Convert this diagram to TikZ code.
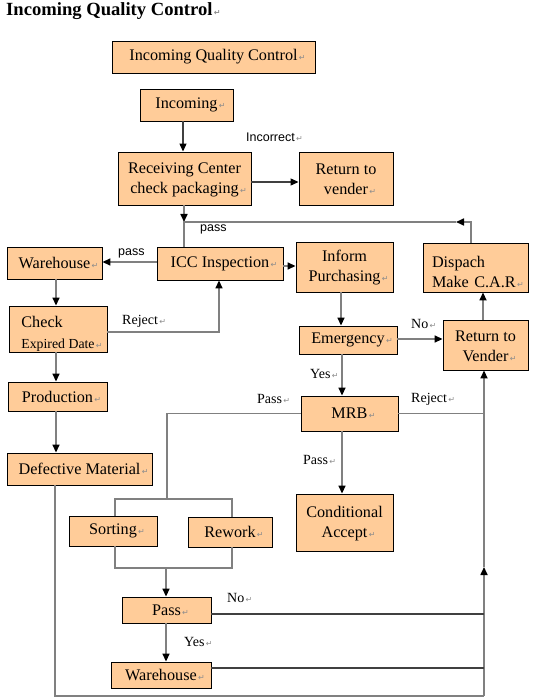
\documentclass[tikz,border=0pt]{standalone}
\usepackage{fontspec}
\setmainfont{Liberation Serif}
\newfontfamily\sansf{Liberation Sans}
\newfontfamily\dvs{DejaVu Sans}
\usetikzlibrary{arrows.meta,calc}
\definecolor{boxfill}{HTML}{FFCC99}
\definecolor{lnc}{HTML}{808080}
\newcommand\pmk{\rlap{\dvs\fontsize{8}{8}\selectfont\color{black!45}\,↵}}
\begin{document}
\begin{tikzpicture}[x=1pt,y=-1pt,
 >={Triangle[length=8pt,width=7pt,color=black,fill=black]},
 box/.style={draw=black,line width=0.9pt,fill=boxfill,inner sep=0pt,align=center,font=\fontsize{16.2}{20}\selectfont},
 conn/.style={draw=lnc,line width=1.6pt},
 dconn/.style={draw=black!75,line width=1.1pt},
 lab/.style={inner sep=0pt,anchor=west,font=\fontsize{14}{16}\selectfont},
 slab/.style={inner sep=0pt,anchor=west,font=\sansf\fontsize{12.5}{14}\selectfont}]
\useasboundingbox (0,0) rectangle (537,700);

\node[anchor=base west,inner sep=0pt,font=\bfseries\fontsize{18.6}{20}\selectfont] (title) at (6,16) {Incoming Quality Control\pmk};

\node[box,minimum width=203pt,minimum height=32pt] (iqc) at (213.5,57) {Incoming Quality Control\pmk};
\node[box,minimum width=93pt,minimum height=32pt] (inc) at (186.5,105) {Incoming\pmk};
\node[box,minimum width=133pt,minimum height=53pt] (recv) at (184.5,178.5) {\rule{0pt}{13pt}Receiving Center\\check packaging\pmk};
\node[box,minimum width=94pt,minimum height=53pt] (ret1) at (346,178.5) {\rule{0pt}{13pt}Return to\\vender\pmk};
\node[box,minimum width=126pt,minimum height=33pt] (icc) at (220,263.5) {ICC Inspection\pmk};
\node[box,minimum width=95pt,minimum height=32pt] (wh1) at (54.5,263) {Warehouse\pmk};
\node[box,minimum width=98pt,minimum height=46pt,align=left,font=\fontsize{16.2}{21}\selectfont] (chk) at (58,329) {\rule{0pt}{21pt}Check\\{\fontsize{13.8}{21}\selectfont Expired Date\pmk}};
\node[box,minimum width=99pt,minimum height=29pt] (prod) at (57.5,396.5) {Production\pmk};
\node[box,minimum width=145pt,minimum height=32pt] (def) at (79.5,469) {Defective Material\pmk};
\node[box,minimum width=97pt,minimum height=50pt] (inf) at (344.5,267) {\rule{0pt}{13pt}Inform\\Purchasing\pmk};
\node[box,minimum width=105pt,minimum height=49pt,align=left,text width=87pt] (dis) at (475.5,267.5) {\rule{0pt}{20pt}Dispach\\Make C.A.R\pmk};
\node[box,minimum width=98pt,minimum height=28pt] (emg) at (348,340) {Emergency\pmk};
\node[box,minimum width=85pt,minimum height=50pt] (ret2) at (485.5,345) {\rule{0pt}{13pt}Return to\\Vender\pmk};
\node[box,minimum width=97pt,minimum height=35pt] (mrb) at (349.5,413.5) {MRB\pmk};
\node[box,minimum width=97pt,minimum height=57pt] (cond) at (344.5,522.5) {\rule{0pt}{13pt}Conditional\\Accept\pmk};
\node[box,minimum width=88pt,minimum height=30pt] (sort) at (113,531) {Sorting\pmk};
\node[box,minimum width=84pt,minimum height=30pt] (rew) at (230,532) {Rework\pmk};
\node[box,minimum width=89pt,minimum height=26pt] (pass) at (166.5,610) {Pass\pmk};
\node[box,minimum width=100pt,minimum height=26pt] (wh2) at (161,675) {Warehouse\pmk};

\coordinate (j1) at (184,222);
\coordinate (j3) at (456,222);
\coordinate (rb) at (484,696);
\coordinate (rm) at (484,567);
\coordinate (jt) at (167,499);
\coordinate (jb) at (166,568);

\draw[dconn,->] ([xshift=-3.5pt]inc.south) -- ([xshift=-3.5pt]inc.south |- recv.north);
\draw[dconn,->] ([yshift=-3.5pt]recv.east) -- ([yshift=-3.5pt]recv.east -| ret1.west);
\draw[conn,->] (j1 |- recv.south) -- (j1);
\draw[conn,->] ([xshift=-4.5pt]dis.north) |- (j3);
\draw[conn] (j3) -- (j1) -- (j1 |- icc.north);
\draw[conn,->] ([yshift=1.5pt]icc.west) -- ([yshift=1.5pt]icc.west -| wh1.east);
\draw[conn,->] ([xshift=1.5pt]wh1.south) -- ([xshift=1.5pt]wh1.south |- chk.north);
\draw[conn,->] ([yshift=-3pt]chk.east) -| ([xshift=-1pt]icc.south);
\draw[conn,->] ([xshift=-2pt]chk.south) -- ([xshift=-2pt]chk.south |- prod.north);
\draw[conn,->] ([xshift=-1.5pt]prod.south) -- ([xshift=-1.5pt]prod.south |- def.north);
\draw[conn,->] ([yshift=-2.5pt]icc.east) -- ([yshift=-2.5pt]icc.east -| inf.west);
\draw[conn,->] ([xshift=-3.5pt]inf.south) -- ([xshift=-3.5pt]inf.south |- emg.north);
\draw[conn,->] ([yshift=1pt]emg.east) -- ([yshift=1pt]emg.east -| ret2.west);
\draw[conn,->] ([xshift=-2.5pt]ret2.north) -- ([xshift=-2.5pt]ret2.north |- dis.south);
\draw[conn,->] ([xshift=-6pt]emg.south) -- ([xshift=-6pt]emg.south |- mrb.north);
\draw[conn,->] ([xshift=-7.5pt]mrb.south) -- ([xshift=-7.5pt]mrb.south |- cond.north);
\draw[conn] (mrb.east) -- (mrb.east -| rb);
\draw[conn] ([xshift=-24.5pt]def.south) |- (rb);
\draw[conn,->] (rb) -- (rm);
\draw[conn,->] (rm) -- (rm |- ret2.south);
\draw[conn] (mrb.west) -| (jt);
\draw[conn] ([xshift=2pt]sort.north) -- ([xshift=2pt]sort.north |- jt) -- ([xshift=2pt]rew.north |- jt) -- ([xshift=2pt]rew.north);
\draw[conn] ([xshift=2pt]sort.south) -- ([xshift=2pt]sort.south |- jb) -- ([xshift=2pt]rew.south |- jb) -- ([xshift=2pt]rew.south);
\draw[conn,->] (jb) -- (jb |- pass.north);
\draw[conn,->] ([xshift=-0.5pt]pass.south) -- ([xshift=-0.5pt]pass.south |- wh2.north);
\draw[dconn] ([yshift=-4pt]pass.east) -- ([yshift=-4pt]pass.east -| rb);
\draw[dconn] ([yshift=7pt]wh2.east) -- ([yshift=7pt]wh2.east -| rb);

\node[slab] (lincorr) at (246,137) {Incorrect\pmk};
\node[slab] (lpass1) at (200,229) {pass};
\node[slab] (lpass2) at (118,253) {pass};
\node[lab] (lrej1) at (122,321) {Reject\pmk};
\node[lab] (lno1) at (411,324) {No\pmk};
\node[lab] (lyes1) at (310,374) {Yes\pmk};
\node[lab] (lpassL) at (257,399) {Pass\pmk};
\node[lab] (lrej2) at (411,399) {Reject\pmk};
\node[lab] (lpassD) at (303,460) {Pass\pmk};
\node[lab] (lno2) at (227,598) {No\pmk};
\node[lab] (lyes2) at (184,642) {Yes\pmk};
\end{tikzpicture}
\end{document}
